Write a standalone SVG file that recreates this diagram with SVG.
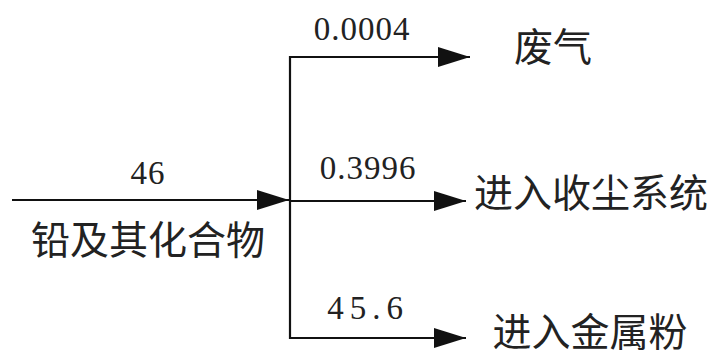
<svg xmlns="http://www.w3.org/2000/svg" width="714" height="354" viewBox="0 0 714 354">
<style>
.ln{stroke:#111;stroke-width:2.2;fill:none}
.num{font-family:"Liberation Serif",serif;font-size:33px;fill:#222;letter-spacing:1px}
.cn{font-family:"Noto Sans CJK SC","Noto Sans",sans-serif;font-size:39px;fill:#222}
</style>
<defs>
<marker id="ah" viewBox="0 0 32 20" refX="32" refY="10" markerWidth="32" markerHeight="20" markerUnits="userSpaceOnUse" orient="auto">
<path d="M0,0 L32,10 L0,20 Z" fill="#111"/>
</marker>
</defs>
<rect width="714" height="354" fill="#fff"/>
<g id="connectors">
<line class="ln" x1="12" y1="200" x2="289" y2="200" marker-end="url(#ah)"/>
<polyline class="ln" points="470,57 290,57 290,338 466,338" marker-end="url(#ah)"/>
<line class="ln" x1="290" y1="57" x2="470" y2="57" marker-end="url(#ah)"/>
<line class="ln" x1="290" y1="201" x2="466" y2="201" marker-end="url(#ah)"/>
</g>
<g id="input">
<text class="num" x="148" y="184" text-anchor="middle">46</text>
<text class="cn" x="148" y="254" text-anchor="middle">铅及其化合物</text>
</g>
<g id="out1">
<text class="num" x="362" y="40" text-anchor="middle">0.0004</text>
<text class="cn" x="553" y="61" text-anchor="middle">废气</text>
</g>
<g id="out2">
<text class="num" x="368" y="179" text-anchor="middle">0.3996</text>
<text class="cn" x="591" y="207" text-anchor="middle">进入收尘系统</text>
</g>
<g id="out3">
<text class="num" x="368" y="319" text-anchor="middle" style="letter-spacing:6px">45.6</text>
<text class="cn" x="590" y="346" text-anchor="middle">进入金属粉</text>
</g>
</svg>
